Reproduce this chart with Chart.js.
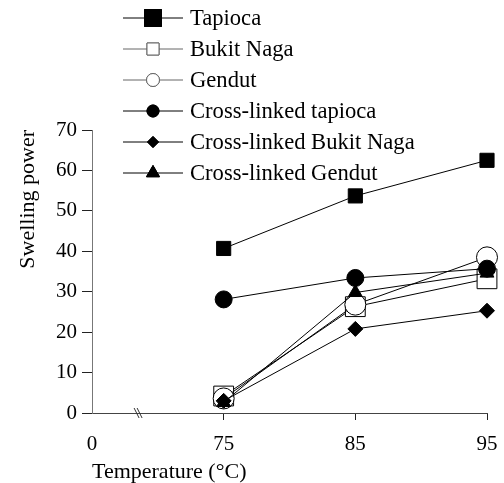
<!DOCTYPE html>
<html lang="en">
<head>
  <meta charset="UTF-8" />
  <title>Swelling power</title>
  <script src="https://cdn.jsdelivr.net/npm/chart.js"></script>
  <style>
    html, body { margin: 0; padding: 0; background: #fff; }
    #wrap { width: 504px; height: 483px; }
  </style>
</head>
<body>
<div id="wrap"><canvas id="chart" width="504" height="483"></canvas></div>
<script>
  // data
  const xLabels = ['0', '75', '85', '95'];
  const tapioca = [null, 40.7, 53.7, 62.5];
  const bukitNaga = [null, 4.2, 26.3, 33.2];
  const gendut = [null, 3.6, 26.8, 38.5];
  const xlTapioca = [null, 28.1, 33.4, 35.7];
  const xlBukitNaga = [null, 3.0, 20.8, 25.3];
  const xlGendut = [null, 2.6, 29.8, 34.6];
  const yTicks = [0, 10, 20, 30, 40, 50, 60, 70];

  const serif = '"Liberation Serif", "DejaVu Serif", serif';

  // marker styles for plot and legend
  const series = [
    { label: 'Tapioca', data: tapioca, style: 'rect', fill: '#000', r: 10, lr: 12, lc: '#000' },
    { label: 'Bukit Naga', data: bukitNaga, style: 'rect', fill: '#fff', r: 14, lr: 8.5, lc: '#666' },
    { label: 'Gendut', data: gendut, style: 'circle', fill: '#fff', r: 10.5, lr: 6.5, lc: '#666' },
    { label: 'Cross-linked tapioca', data: xlTapioca, style: 'circle', fill: '#000', r: 8.5, lr: 6, lc: '#000' },
    { label: 'Cross-linked Bukit Naga', data: xlBukitNaga, style: 'rectRot', fill: '#000', r: 7.5, lr: 5.5, lc: '#000' },
    { label: 'Cross-linked Gendut', data: xlGendut, style: 'triangle', fill: '#000', r: 8, lr: 7.5, lc: '#000' }
  ];

  const legendPlugin = {
    id: 'sideLegend',
    afterDraw(chart) {
      const ctx = chart.ctx;
      ctx.save();
      series.forEach((s, i) => {
        const y = 18 + i * 31;
        ctx.strokeStyle = s.lc;
        ctx.lineWidth = 1;
        ctx.beginPath();
        ctx.moveTo(123, y);
        ctx.lineTo(183, y);
        ctx.stroke();
        ctx.fillStyle = s.fill === '#fff' ? '#fff' : s.lc;
        Chart.helpers.drawPoint(ctx, { pointStyle: s.style, radius: s.lr, rotation: 0, borderWidth: 1 }, 153, y);
        ctx.fill();
        ctx.stroke();
        ctx.fillStyle = '#000';
        ctx.font = '22.6px ' + serif;
        ctx.textBaseline = 'middle';
        ctx.textAlign = 'left';
        ctx.fillText(s.label, 190, y + 1);
      });
      ctx.restore();
    }
  };

  const breakPlugin = {
    id: 'axisBreak',
    afterDraw(chart) {
      const x = chart.scales.x.getPixelForValue(0.35);
      const y = chart.scales.y.getPixelForValue(0);
      const ctx = chart.ctx;
      ctx.save();
      ctx.strokeStyle = '#333';
      ctx.lineWidth = 1;
      [-1.5, 1.5].forEach(dx => {
        ctx.beginPath();
        ctx.moveTo(x + dx - 2.5, y - 5);
        ctx.lineTo(x + dx + 2.5, y + 5);
        ctx.stroke();
      });
      ctx.restore();
    }
  };

  new Chart(document.getElementById('chart'), {
    type: 'line',
    data: {
      labels: xLabels,
      datasets: series.map((s, i) => ({
        label: s.label,
        data: s.data,
        order: series.length - i,
        borderColor: '#000',
        borderWidth: 1,
        backgroundColor: s.fill,
        pointStyle: s.style,
        pointRadius: s.r,
        pointBackgroundColor: s.fill,
        pointBorderColor: '#000',
        pointBorderWidth: 1,
        tension: 0
      }))
    },
    options: {
      responsive: false,
      animation: false,
      layout: { padding: { top: 130, right: 17, left: 0, bottom: 0 } },
      plugins: {
        legend: { display: false },
        tooltip: { enabled: false }
      },
      scales: {
        x: {
          type: 'category',
          offset: false,
          afterFit(scale) {
            scale.height = 70;
            scale.paddingLeft = 0;
            scale.paddingRight = 0;
          },
          border: { color: '#444', width: 1 },
          grid: {
            drawOnChartArea: false,
            tickLength: 7,
            color: ctx => ctx.index === 0 ? 'rgba(0,0,0,0)' : '#222'
          },
          ticks: { color: '#000', font: { family: serif, size: 21 }, padding: 12, maxRotation: 0 },
          title: {
            display: true,
            text: 'Temperature (°C)',
            align: 'start',
            color: '#000',
            font: { family: serif, size: 22, lineHeight: 1 },
            padding: { top: 0, bottom: 0 }
          }
        },
        y: {
          min: 0,
          max: 70,
          afterFit(scale) { scale.width = 92; },
          afterBuildTicks(scale) { scale.ticks = yTicks.map(v => ({ value: v })); },
          border: { color: '#777', width: 1 },
          grid: { drawOnChartArea: false, tickLength: 10, color: '#222' },
          ticks: { color: '#000', font: { family: serif, size: 21 }, padding: 5 },
          title: {
            display: true,
            text: 'Swelling power',
            align: 'end',
            color: '#000',
            font: { family: serif, size: 22 },
            padding: { top: 15, bottom: 0 }
          }
        }
      }
    },
    plugins: [legendPlugin, breakPlugin]
  });
</script>
</body>
</html>
